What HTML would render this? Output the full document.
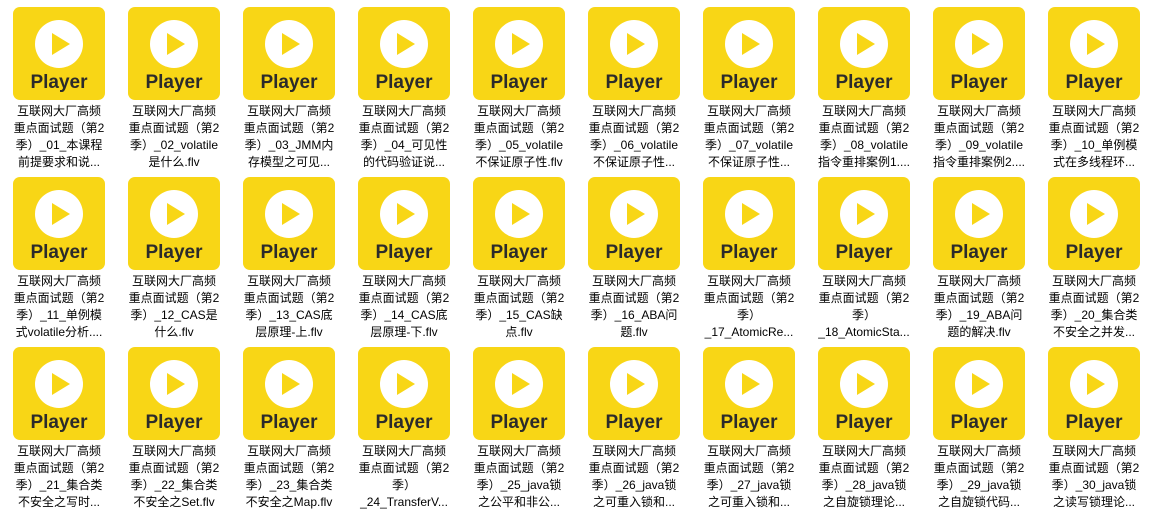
<!DOCTYPE html>
<html><head><meta charset="utf-8">
<style>
body{margin:0;width:1154px;height:520px;background:#fff;overflow:hidden;position:relative;font-family:"Liberation Sans","Noto Sans CJK SC",sans-serif;}
.item{position:absolute;width:115px;}
.icon{position:absolute;left:13px;top:7px;width:92px;height:93px;background:#F8D616;border-radius:7px;}
.circ{position:absolute;left:22px;top:13px;width:48px;height:48px;border-radius:50%;background:#fff;}
.tri{position:absolute;left:17px;top:13px;width:0;height:0;border-top:11px solid transparent;border-bottom:11px solid transparent;border-left:18px solid #F8D616;}
.pl{position:absolute;left:0;width:92px;top:65px;text-align:center;font-weight:bold;font-size:19px;color:#2b2b2b;font-family:"Liberation Sans",sans-serif;}
.lbl{position:absolute;left:2px;width:114px;top:103px;text-align:center;font-size:12px;line-height:17px;color:#000;white-space:nowrap;}
</style></head><body>
<div id="grid"></div>
<script>
const tails=[
["季）_01_本课程","前提要求和说..."],["季）_02_volatile","是什么.flv"],["季）_03_JMM内","存模型之可见..."],["季）_04_可见性","的代码验证说..."],["季）_05_volatile","不保证原子性.flv"],["季）_06_volatile","不保证原子性..."],["季）_07_volatile","不保证原子性..."],["季）_08_volatile","指令重排案例1...."],["季）_09_volatile","指令重排案例2...."],["季）_10_单例模","式在多线程环..."],
["季）_11_单例模","式volatile分析...."],["季）_12_CAS是","什么.flv"],["季）_13_CAS底","层原理-上.flv"],["季）_14_CAS底","层原理-下.flv"],["季）_15_CAS缺","点.flv"],["季）_16_ABA问","题.flv"],["季）","_17_AtomicRe..."],["季）","_18_AtomicSta..."],["季）_19_ABA问","题的解决.flv"],["季）_20_集合类","不安全之并发..."],
["季）_21_集合类","不安全之写时..."],["季）_22_集合类","不安全之Set.flv"],["季）_23_集合类","不安全之Map.flv"],["季）","_24_TransferV..."],["季）_25_java锁","之公平和非公..."],["季）_26_java锁","之可重入锁和..."],["季）_27_java锁","之可重入锁和..."],["季）_28_java锁","之自旋锁理论..."],["季）_29_java锁","之自旋锁代码..."],["季）_30_java锁","之读写锁理论..."]];
const g=document.getElementById('grid');
tails.forEach((t,i)=>{
  const d=document.createElement('div');
  d.className='item';
  d.style.left=(i%10)*115+'px';
  d.style.top=Math.floor(i/10)*170+'px';
  
  
  d.innerHTML='<div class="icon"><div class="circ"><div class="tri"></div></div><div class="pl">Player</div></div>'+
  '<div class="lbl">互联网大厂高频<br>重点面试题（第2<br>'+t[0]+'<br>'+t[1]+'</div>';
  g.appendChild(d);
});
</script>
</body></html>
